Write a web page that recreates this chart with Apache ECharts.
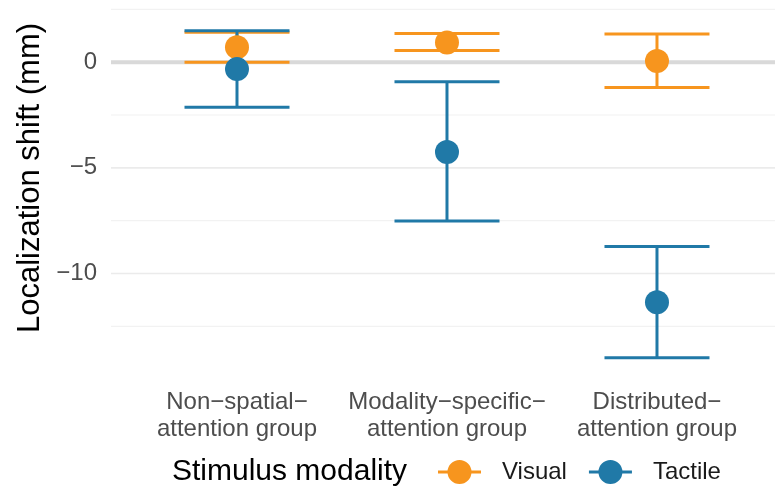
<!DOCTYPE html>
<html>
<head>
<meta charset="utf-8">
<script src="https://cdn.jsdelivr.net/npm/echarts@6/dist/echarts.min.js"></script>
<style>
html,body{margin:0;padding:0;background:#fff;}
#chart{width:775px;height:491px;}
</style>
</head>
<body>
<div id="chart"></div>
<script>
const categories = ['Non\u2212spatial\u2212\nattention group', 'Modality\u2212specific\u2212\nattention group', 'Distributed\u2212\nattention group'];
const groupX = [1, 2, 3];
const visualMean = [0.70, 0.93, 0.05];
const visualLow = [0.00, 0.55, -1.20];
const visualHigh = [1.42, 1.36, 1.33];
const tactileMean = [-0.33, -4.25, -11.36];
const tactileLow = [-2.13, -7.52, -13.98];
const tactileHigh = [1.49, -0.93, -8.72];
const yTicks = [0, -5, -10];
const gridMajor = [-5, -10];
const gridMinor = [2.5, -2.5, -7.5, -12.5];
const zeroLine = [0];
const seriesNames = ['Visual', 'Tactile'];
const legendTitle = 'Stimulus modality';
const yTitle = 'Localization shift (mm)';

const ORANGE = '#F7951E';
const BLUE = '#2079A7';
const FONT = '"Liberation Sans", Arial, sans-serif';

const chart = echarts.init(document.getElementById('chart'), null, {renderer: 'canvas'});

function errorBarData(low, high) {
  return groupX.map((x, i) => [x, low[i], high[i]]);
}
function pointData(mean) {
  return groupX.map((x, i) => [x, mean[i]]);
}
function makeErrorRender(color) {
  return function (params, api) {
    const x = api.value(0);
    const lo = api.coord([x, api.value(1)]);
    const hi = api.coord([x, api.value(2)]);
    const half = api.size([0.5, 0])[0] / 2;
    const style = {stroke: color, lineWidth: 3, lineCap: 'butt'};
    return {
      type: 'group',
      children: [
        {type: 'line', shape: {x1: lo[0], y1: lo[1], x2: hi[0], y2: hi[1]}, style: style},
        {type: 'line', shape: {x1: hi[0] - half, y1: hi[1], x2: hi[0] + half, y2: hi[1]}, style: style},
        {type: 'line', shape: {x1: lo[0] - half, y1: lo[1], x2: lo[0] + half, y2: lo[1]}, style: style}
      ]
    };
  };
}

const gridLineData = gridMinor.map(v => [v, 0]).concat(gridMajor.map(v => [v, 1])).concat(zeroLine.map(v => [v, 2]));

const legendIcon = 'path://M0,10.5 L43,10.5 L43,13.5 L0,13.5 Z M9.5,12 A12,12 0 1 1 33.5,12 A12,12 0 1 1 9.5,12 Z';

const option = {
  animation: false,
  backgroundColor: '#ffffff',
  textStyle: {fontFamily: FONT},
  grid: {left: 111, right: 0, top: 0, bottom: 116, containLabel: false},
  xAxis: {
    type: 'value',
    min: 0.4,
    max: 3.562,
    axisLine: {show: false},
    axisTick: {show: false},
    splitLine: {show: false},
    axisLabel: {
      customValues: groupX,
      formatter: v => categories[Math.round(v) - 1] || '',
      fontSize: 24,
      lineHeight: 27,
      color: '#4d4d4d',
      fontFamily: FONT,
      margin: 14,
      align: 'center'
    }
  },
  yAxis: {
    type: 'value',
    min: -14.8,
    max: 2.94,
    axisLine: {show: false},
    axisTick: {show: false},
    splitLine: {show: false},
    axisLabel: {
      customValues: yTicks,
      formatter: v => String(v).replace('-', '\u2212'),
      fontSize: 24,
      color: '#4d4d4d',
      fontFamily: FONT,
      margin: 14
    }
  },
  legend: {
    left: 433,
    top: 455,
    orient: 'horizontal',
    itemWidth: 43,
    itemHeight: 24,
    itemGap: 22,
    data: seriesNames.map(n => ({name: n, icon: legendIcon})),
    textStyle: {fontSize: 24, color: '#1a1a1a', fontFamily: FONT, padding: [0, 0, 0, 16]},
    selectedMode: false
  },
  graphic: [
    {
      type: 'text',
      left: 172,
      top: 457,
      style: {text: legendTitle, fontSize: 30, fill: '#000', fontFamily: FONT}
    },
    {
      type: 'text',
      x: 30,
      y: 178,
      rotation: Math.PI / 2,
      style: {text: yTitle, fontSize: 31, fill: '#000', fontFamily: FONT, align: 'center', verticalAlign: 'middle'}
    }
  ],
  series: [
    {
      type: 'custom',
      name: 'gridlines',
      silent: true,
      z: 1,
      data: gridLineData,
      encode: {x: -1, y: 0},
      clip: false,
      renderItem: function (params, api) {
        const v = api.value(0);
        const kind = api.value(1);
        const cs = params.coordSys;
        const y = api.coord([1, v])[1];
        const style = kind === 2 ? {stroke: '#d9d9d9', lineWidth: 4}
          : kind === 1 ? {stroke: '#ebebeb', lineWidth: 1.6}
          : {stroke: '#f2f2f2', lineWidth: 1.2};
        return {type: 'line', shape: {x1: cs.x, y1: y, x2: cs.x + cs.width, y2: y}, style: style};
      }
    },
    {
      type: 'custom',
      name: 'Visual',
      z: 2,
      itemStyle: {color: ORANGE},
      data: errorBarData(visualLow, visualHigh),
      encode: {x: 0, y: [1, 2]},
      renderItem: makeErrorRender(ORANGE)
    },
    {
      type: 'custom',
      name: 'Tactile',
      z: 2,
      itemStyle: {color: BLUE},
      data: errorBarData(tactileLow, tactileHigh),
      encode: {x: 0, y: [1, 2]},
      renderItem: makeErrorRender(BLUE)
    },
    {
      type: 'scatter',
      name: 'Visual',
      z: 3,
      symbol: 'circle',
      symbolSize: 24,
      itemStyle: {color: ORANGE, opacity: 1},
      data: pointData(visualMean)
    },
    {
      type: 'scatter',
      name: 'Tactile',
      z: 3,
      symbol: 'circle',
      symbolSize: 24,
      itemStyle: {color: BLUE, opacity: 1},
      data: pointData(tactileMean)
    }
  ]
};
chart.setOption(option);
</script>
</body>
</html>
